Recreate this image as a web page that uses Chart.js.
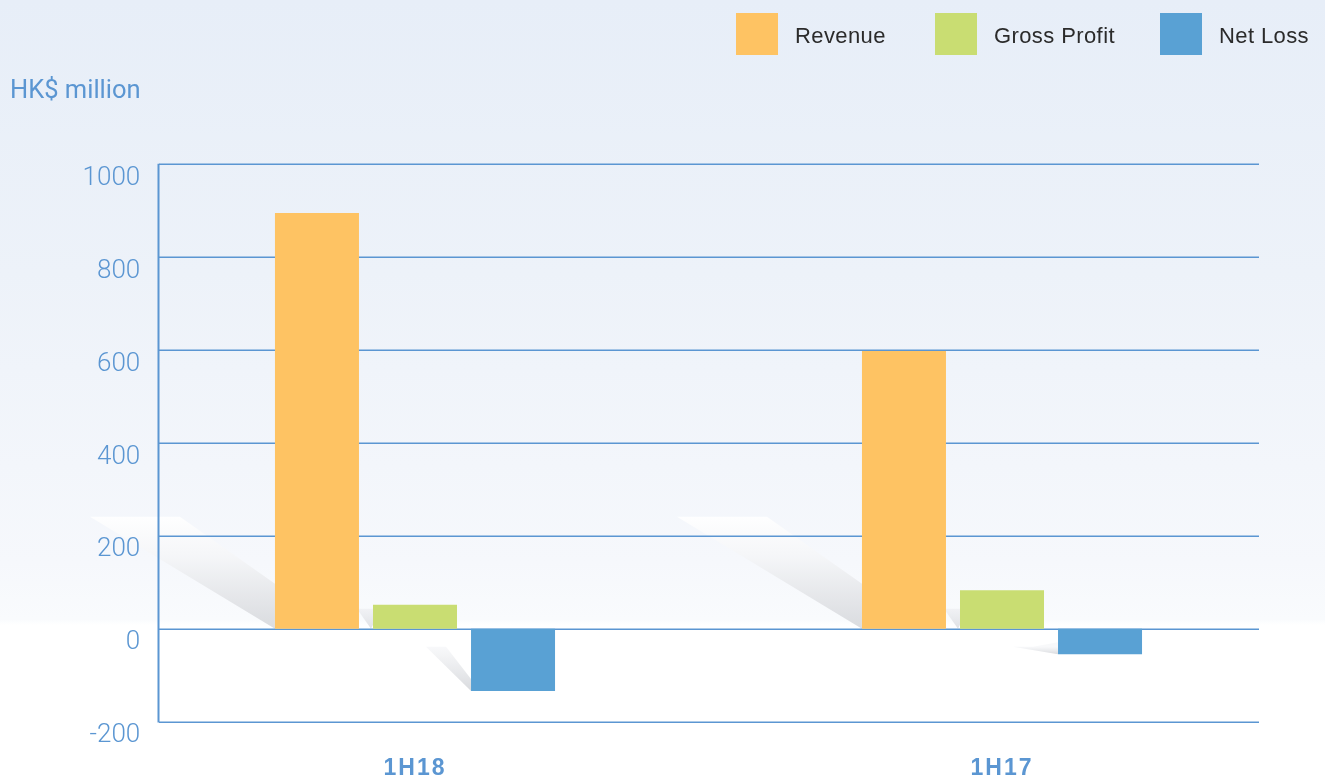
<!DOCTYPE html>
<html>
<head>
<meta charset="utf-8">
<script src="https://cdn.jsdelivr.net/npm/chart.js@4/dist/chart.umd.min.js"></script>
<style>
html,body{margin:0;padding:0;background:#fff;}
canvas{display:block;}
</style>
</head>
<body>
<canvas id="c" width="1325" height="781"></canvas>
<script>
// ---- data ----
const categories = ['1H18', '1H17'];
const seriesNames = ['Revenue', 'Gross Profit', 'Net Loss'];
const revenue = [895, 598];
const grossProfit = [52, 83];
const netLoss = [-134, -55];
const yMin = -200, yMax = 1000, yStep = 200;
const unitLabel = 'HK$ million';

// ---- style ----
const colors = ['#fec363', '#c9dd72', '#59a1d4'];
const blue = '#5b96d2';
const gridLeft = 159, gridRight = 1259;
const legendX = [736, 935, 1160];

const decor = {
  id: 'decor',
  beforeDraw(chart) {
    const ctx = chart.ctx, W = chart.width, H = chart.height;
    const g = ctx.createLinearGradient(0, 0, 0, H);
    g.addColorStop(0, '#e7eef8');
    g.addColorStop(0.35, '#edf2f9');
    g.addColorStop(0.72, '#f6f8fc');
    g.addColorStop(0.793, '#f9fbfd');
    g.addColorStop(0.80, '#ffffff');
    g.addColorStop(1, '#ffffff');
    ctx.save();
    ctx.fillStyle = g;
    ctx.fillRect(0, 0, W, H);

    const y = chart.scales.y;
    const z = y.getPixelForValue(0);
    // shadows behind bars
    chart.data.datasets.forEach((ds, di) => {
      const meta = chart.getDatasetMeta(di);
      meta.data.forEach((bar) => {
        const L = bar.x - bar.width / 2;
        let pts, gr;
        if (di === 0) {
          pts = [[L - 185, z - 112], [L - 95, z - 112], [L, z - 45], [L, z]];
          gr = ctx.createLinearGradient(0, z - 112, 0, z);
          gr.addColorStop(0, 'rgba(255,255,255,0.9)');
          gr.addColorStop(0.35, 'rgba(245,246,248,0.9)');
          gr.addColorStop(1, 'rgba(212,214,218,0.85)');
        } else if (di === 1) {
          pts = [[L - 16, z - 20], [L, z - 20], [L, z - 4], [L - 2, z]];
          gr = ctx.createLinearGradient(0, z - 20, 0, z);
          gr.addColorStop(0, 'rgba(235,236,240,0.6)');
          gr.addColorStop(1, 'rgba(215,217,221,0.8)');
        } else {
          const b = bar.y;
          pts = [[L - 45, z + 18], [L - 25, z + 18], [L, b - 12], [L, b]];
          gr = ctx.createLinearGradient(0, z + 18, 0, b);
          gr.addColorStop(0, 'rgba(245,246,248,0.7)');
          gr.addColorStop(1, 'rgba(212,214,218,0.9)');
        }
        ctx.beginPath();
        ctx.moveTo(pts[0][0], pts[0][1]);
        for (let i = 1; i < pts.length; i++) ctx.lineTo(pts[i][0], pts[i][1]);
        ctx.closePath();
        ctx.fillStyle = gr;
        ctx.fill();
      });
    });
    ctx.restore();
  },
  beforeDatasetsDraw(chart) {
    const ctx = chart.ctx;
    const y = chart.scales.y;
    ctx.save();
    // horizontal grid lines
    ctx.strokeStyle = blue;
    ctx.lineWidth = 1.6;
    y.ticks.forEach(t => {
      const py = Math.round(y.getPixelForValue(t.value)) + 0.2;
      ctx.beginPath();
      ctx.moveTo(gridLeft, py);
      ctx.lineTo(gridRight, py);
      ctx.stroke();
    });
    // vertical axis line
    ctx.lineWidth = 2;
    ctx.beginPath();
    ctx.moveTo(gridLeft - 0.5, y.getPixelForValue(yMax) - 0.6);
    ctx.lineTo(gridLeft - 0.5, y.getPixelForValue(yMin) + 0.8);
    ctx.stroke();
    ctx.restore();
  },
  afterDatasetsDraw(chart) {
    // letter spacing for the category labels drawn next (x ticks z = 1)
    chart.ctx.letterSpacing = '2px';
  },
  afterDraw(chart) {
    const ctx = chart.ctx;
    ctx.letterSpacing = '0px';
    ctx.save();
    // unit label
    ctx.fillStyle = blue;
    ctx.font = '400 25.5px Roboto';
    ctx.textAlign = 'left';
    ctx.textBaseline = 'alphabetic';
    ctx.fillText(unitLabel, 10, 98);
    // legend
    ctx.font = '22px "Liberation Sans"';
    ctx.letterSpacing = '0.4px';
    chart.data.datasets.forEach((ds, i) => {
      const x = legendX[i];
      ctx.fillStyle = ds.backgroundColor;
      ctx.fillRect(x, 13, 42, 42);
      ctx.fillStyle = '#2b2b2b';
      ctx.fillText(ds.label, x + 42 + 17, 42.5);
    });
    ctx.letterSpacing = '0px';
    ctx.restore();
  }
};

new Chart(document.getElementById('c'), {
  type: 'bar',
  data: {
    labels: categories,
    datasets: [
      { label: seriesNames[0], data: revenue, backgroundColor: colors[0] },
      { label: seriesNames[1], data: grossProfit, backgroundColor: colors[1] },
      { label: seriesNames[2], data: netLoss, backgroundColor: colors[2] }
    ]
  },
  options: {
    responsive: false,
    animation: false,
    devicePixelRatio: 1,
    events: [],
    layout: { padding: { left: 0, right: 29.5, top: 164.3, bottom: 0 } },
    datasets: {
      bar: { categoryPercentage: 0.501, barPercentage: 0.857, borderWidth: 0 }
    },
    plugins: { legend: { display: false }, tooltip: { enabled: false }, title: { display: false } },
    scales: {
      x: {
        grid: { display: false, drawTicks: false },
        border: { display: false },
        ticks: {
          color: blue,
          font: { family: '"Liberation Sans"', size: 23, weight: 'bold' },
          padding: 33,
          z: 1
        },
        afterFit(s) { s.height = 59.3; }
      },
      y: {
        min: yMin, max: yMax,
        grid: { display: false, drawTicks: false },
        border: { display: false },
        ticks: {
          stepSize: yStep,
          color: blue,
          font: { family: 'Roboto', size: 26, weight: '300' },
          mirror: true,
          crossAlign: 'far',
          padding: -38.9,
          labelOffset: 14,
          callback: (v) => String(v)
        },
        afterFit(s) { s.width = 121.5; }
      }
    }
  },
  plugins: [decor]
});
</script>
</body>
</html>
